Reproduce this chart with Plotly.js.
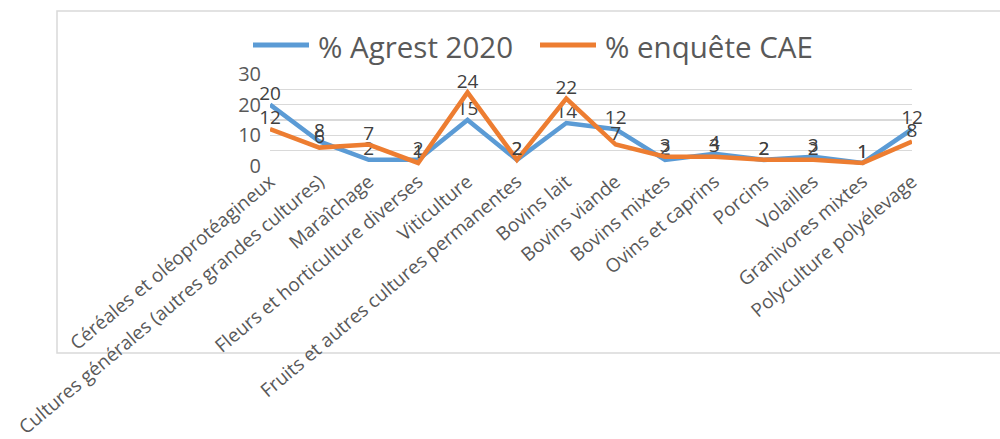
<!DOCTYPE html>
<html>
<head>
<meta charset="utf-8">
<script src="https://cdn.plot.ly/plotly-3.0.1.min.js"></script>
<style>html,body{margin:0;padding:0;background:#fff;}#chart{width:1000px;height:439px;}</style>
</head>
<body>
<div id="chart"></div>
<script>
const categories = [
  "Céréales et oléoprotéagineux",
  "Cultures générales (autres grandes cultures)",
  "Maraîchage",
  "Fleurs et horticulture diverses",
  "Viticulture",
  "Fruits et autres cultures permanentes",
  "Bovins lait",
  "Bovins viande",
  "Bovins mixtes",
  "Ovins et caprins",
  "Porcins",
  "Volailles",
  "Granivores mixtes",
  "Polyculture polyélevage"
];
const agrest2020 = [20, 8, 2, 2, 15, 2, 14, 12, 2, 4, 2, 3, 1, 12];
const enqueteCAE = [12, 6, 7, 1, 24, 2, 22, 7, 3, 3, 2, 2, 1, 8];
const seriesNames = ["% Agrest 2020", "% enquête CAE"];
const seriesColors = ["#5B9BD5", "#ED7D31"];

const idx = categories.map((c, i) => i);
const labelFont = {family: "Open Sans, sans-serif", size: 19, color: "#404040"};

const traces = [agrest2020, enqueteCAE].map((vals, k) => ({
  x: idx, y: vals, name: seriesNames[k], type: "scatter", mode: "lines+text",
  line: {color: seriesColors[k], width: 4.5}, text: vals.map(String),
  textposition: "top center", textfont: labelFont, cliponaxis: false, showlegend: false
}));

const L = 270, R = 88, T = 74, B = 273;
const pw = 1000 - L - R, ph = 439 - T - B;
const px2x = p => (p - L) / pw;
const px2y = p => (439 - B - p) / ph;

// manual legend (line samples + names)
const legendItems = [
  {x0: 253, x1: 309, tx: 316},
  {x0: 540, x1: 596, tx: 603}
];
const legendShapes = legendItems.map((it, k) => ({
  type: "line", xref: "paper", yref: "paper",
  x0: px2x(it.x0), x1: px2x(it.x1), y0: px2y(45), y1: px2y(45),
  line: {color: seriesColors[k], width: 5}
}));
const legendAnnots = legendItems.map((it, k) => ({
  xref: "paper", yref: "paper", x: px2x(it.tx), y: px2y(46),
  xanchor: "left", yanchor: "middle", showarrow: false, text: seriesNames[k],
  font: {family: "Open Sans, sans-serif", size: 29.5, color: "#595959"}
}));

const layout = {
  width: 1000, height: 439,
  margin: {l: L, r: R, t: T, b: B},
  paper_bgcolor: "#ffffff", plot_bgcolor: "#ffffff",
  showlegend: false,
  xaxis: {
    range: [0, categories.length - 1], tickmode: "array", tickvals: idx, ticktext: categories,
    tickangle: -40, showgrid: false, zeroline: false, showline: false, ticks: "",
    tickfont: {family: "Open Sans, sans-serif", size: 19, color: "#595959"}
  },
  yaxis: {
    range: [0, 30], dtick: 10, tick0: 0, showgrid: true, gridcolor: "#D9D9D9", gridwidth: 1.5,
    minor: {dtick: 5, showgrid: true, gridcolor: "#D9D9D9", gridwidth: 1.5},
    zeroline: false, showline: false, ticks: "", ticklabelstandoff: 8,
    tickfont: {family: "Open Sans, sans-serif", size: 20, color: "#595959"}
  },
  shapes: [
    {type: "rect", xref: "paper", yref: "paper", x0: px2x(57), x1: px2x(1010), y0: px2y(353), y1: px2y(11),
     line: {color: "#D9D9D9", width: 1.5}, fillcolor: "rgba(0,0,0,0)", layer: "below"}
  ].concat(legendShapes),
  annotations: legendAnnots
};

Plotly.newPlot("chart", traces, layout, {displayModeBar: false, staticPlot: true});
</script>
</body>
</html>
